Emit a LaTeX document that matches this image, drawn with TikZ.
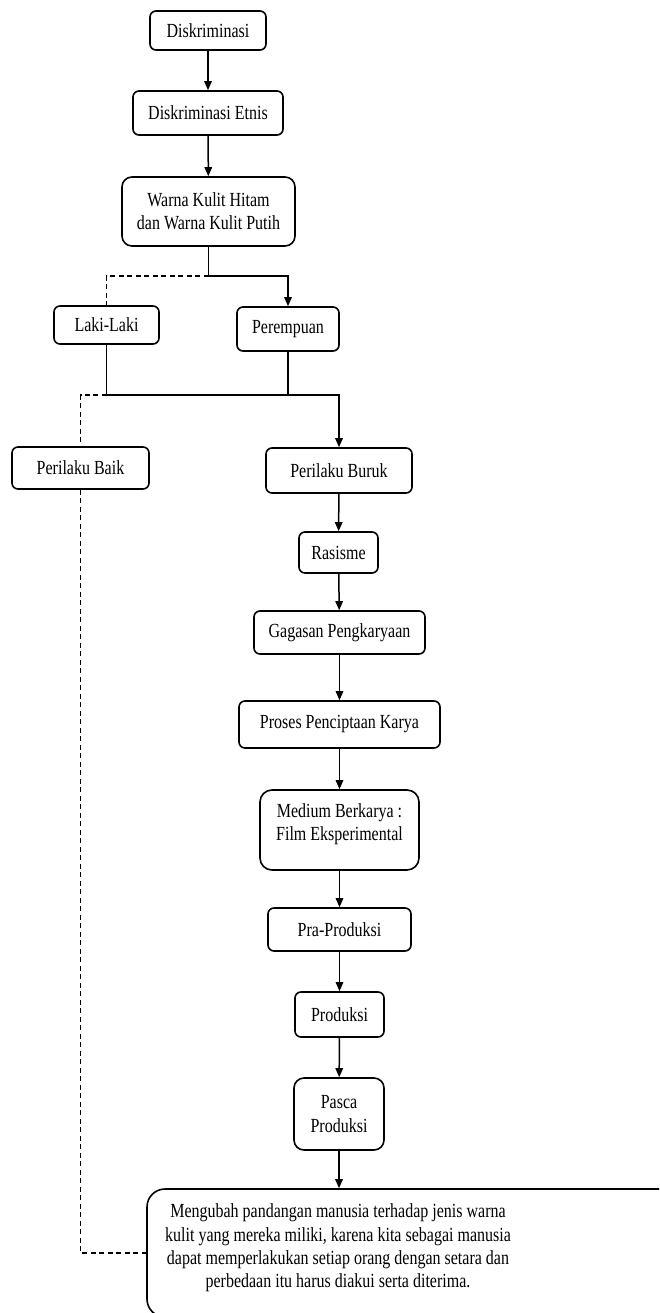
\documentclass[tikz,border=0pt]{standalone}
\usepackage{fontspec}
\setmainfont{Liberation Serif}[FakeStretch=0.8]
\usetikzlibrary{arrows.meta}
\begin{document}
\begin{tikzpicture}[x=1pt,y=-1pt,
  box/.style={draw,line width=1.6pt,rounded corners=6pt,inner sep=0pt,align=center,
    font=\fontsize{20}{23.3}\selectfont},
  txt/.style={inner sep=0pt,align=center,font=\fontsize{20}{23.3}\selectfont},
  conn/.style={line width=1.5pt},
  arr/.style={line width=1.5pt,-{Triangle[length=9pt,width=7.5pt]}},
  dsh/.style={line width=1.5pt,dash pattern=on 5pt off 3.5pt}]
\useasboundingbox (0,0) rectangle (659,1313);
\clip (0,0) rectangle (659,1313);
\node[box,minimum width=116pt,minimum height=39pt] (d1) at (208,30.5) {Diskriminasi};
\node[box,minimum width=150pt,minimum height=44pt] (d2) at (208,113) {Diskriminasi Etnis};
\node[box,rounded corners=10pt,minimum width=173pt,minimum height=69pt] (warna) at (208.5,211.5) {Warna Kulit Hitam\\dan Warna Kulit Putih};
\node[box,minimum width=105pt,minimum height=38pt] (laki) at (106.5,325) {Laki-Laki};
\node[box,minimum width=102pt,minimum height=44pt] (per) at (288,329) {Perempuan};
\node[box,minimum width=137pt,minimum height=42pt] (baik) at (80.5,468) {Perilaku Baik};
\node[box,minimum width=146pt,minimum height=45pt] (buruk) at (339,470.5) {Perilaku Buruk};
\node[box,minimum width=79pt,minimum height=41pt] (ras) at (338.5,552.5) {Rasisme};
\node[box,minimum width=171pt,minimum height=43pt] (gag) at (339.5,632.5) {Gagasan Pengkaryaan};
\node[box,minimum width=201pt,minimum height=47pt] (pro) at (339.5,724.5) {Proses Penciptaan Karya};
\node[box,rounded corners=12pt,minimum width=159pt,minimum height=80pt] (med) at (339.5,830) {};
\node[txt] (medtxt) at (339.5,824) {Medium Berkarya :\\Film Eksperimental};
\node[box,minimum width=143pt,minimum height=43pt] (pra) at (339.5,929.5) {Pra-Produksi};
\node[box,minimum width=89pt,minimum height=45pt] (prod) at (339.5,1014.5) {Produksi};
\node[box,rounded corners=10pt,minimum width=90pt,minimum height=72pt] (pasca) at (339,1114) {Pasca\\Produksi};
\node[box,rounded corners=18pt,minimum width=533pt,minimum height=128pt] (res) at (413.5,1253) {};
\node[txt] (restxt) at (338,1248) {Mengubah pandangan manusia terhadap jenis warna\\kulit yang mereka miliki, karena kita sebagai manusia\\dapat memperlakukan setiap orang dengan setara dan\\perbedaan itu harus diakui serta diterima.};
\coordinate (j1) at (208.5,276);
\coordinate (j2) at (106.5,395);
\draw[arr] (d1) -- (d2);
\draw[arr] (d2) -- (warna);
\draw[arr] (warna.south) -- (j1) -| (per.north);
\draw[dsh] (j1) -| (laki.north);
\draw[conn] (per.south) -- (per.south |- j2);
\draw[arr] (laki.south) -- (j2) -| (buruk.north);
\draw[dsh] (j2) -| (baik.north);
\draw[dsh] (baik.south) |- (res.west);
\draw[arr] (buruk) -- (ras);
\draw[arr] (ras) -- (gag);
\draw[arr] (gag) -- (pro);
\draw[arr] (pro) -- (med);
\draw[arr] (med) -- (pra);
\draw[arr] (pra) -- (prod);
\draw[arr] (prod) -- (pasca);
\draw[arr] (pasca.south) -- (pasca.south |- res.north);
\end{tikzpicture}
\end{document}
